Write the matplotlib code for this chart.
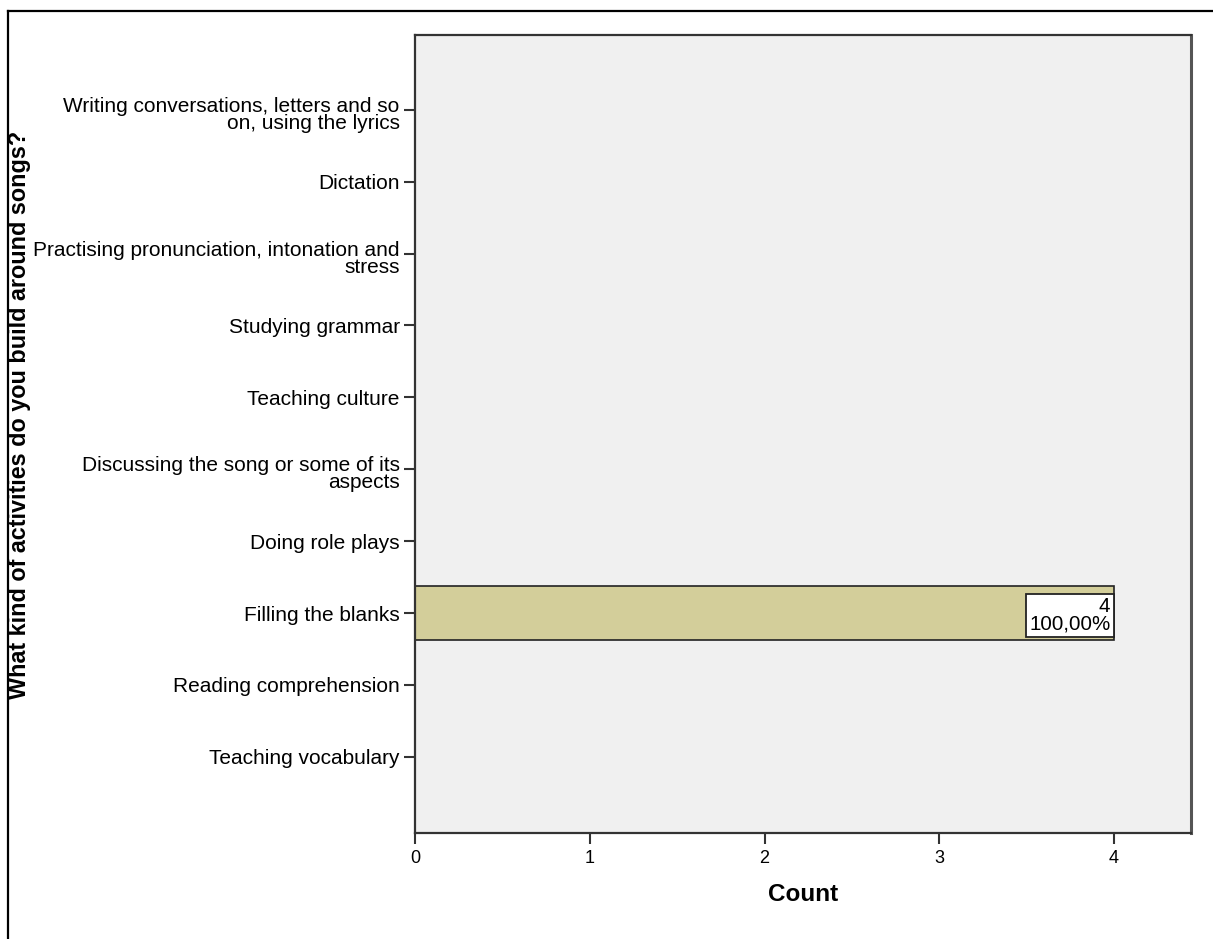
import matplotlib
matplotlib.use("Agg")
import matplotlib.pyplot as plt
from matplotlib.lines import Line2D
from matplotlib.transforms import ScaledTranslation

categories = [
    "Teaching vocabulary",
    "Reading comprehension",
    "Filling the blanks",
    "Doing role plays",
    "Discussing the song or some of its\naspects",
    "Teaching culture",
    "Studying grammar",
    "Practising pronunciation, intonation and\nstress",
    "Dictation",
    "Writing conversations, letters and so\non, using the lyrics",
]
counts = [0, 0, 4, 0, 0, 0, 0, 0, 0, 0]
percent_labels = ["", "", "100,00%", "", "", "", "", "", "", ""]
x_ticks = [0, 1, 2, 3, 4]

plt.rcParams['font.family'] = ['Liberation Sans', 'DejaVu Sans']

fig = plt.figure(figsize=(12.13, 9.39), dpi=100)
ax = fig.add_axes([415/1213, 1 - 833/939, (1191 - 415)/1213, (833 - 35)/939])
ax.set_facecolor('#f0f0f0')

ypos = list(range(len(categories)))
ax.barh(ypos, counts, height=0.75, color='#d3ce9a', edgecolor='#222222', linewidth=1.2, zorder=2)

for y, c, p in zip(ypos, counts, percent_labels):
    if c > 0:
        ax.annotate(f"{c}\n{p}", xy=(c, y), xytext=(-2.6, -1.8), textcoords='offset points',
                    ha='right', va='center', fontsize=14.8, multialignment='right',
                    linespacing=0.92, color='black', zorder=3,
                    bbox=dict(boxstyle='square,pad=0.16', fc='white', ec='#222222', lw=1.3))

ax.set_xlim(0, 4.44)
ax.set_ylim(-1.06, 10.04)
ax.set_xticks(x_ticks)
ax.set_xticklabels([str(t) for t in x_ticks], fontsize=13)
ax.set_yticks(ypos)
ax.set_yticklabels(categories, fontsize=15, linespacing=0.88)
ax.tick_params(axis='both', length=8, width=1.5, color='#333333', direction='out', pad=3)
ax.tick_params(axis='x', pad=4)

for lab in ax.get_yticklabels():
    if "\n" in lab.get_text():
        lab.set_transform(lab.get_transform() + ScaledTranslation(0, -4/100, fig.dpi_scale_trans))

for s in ax.spines.values():
    s.set_color('#333333')
    s.set_linewidth(1.6)
ax.spines['right'].set_color('#555555')
ax.spines['right'].set_linewidth(2.2)

ax.set_xlabel("Count", fontsize=17.5, fontweight='bold', labelpad=12)
fig.text(20/1213, 1 - 415/939, "What kind of activities do you build around songs?",
         rotation=90, ha='center', va='center', fontsize=16.8, fontweight='bold')

# outer frame (top and left edges visible)
fig.add_artist(Line2D([8/1213, 1.0], [1 - 11/939, 1 - 11/939], transform=fig.transFigure, color='black', lw=1.6))
fig.add_artist(Line2D([8/1213, 8/1213], [0.0, 1 - 11/939], transform=fig.transFigure, color='black', lw=1.6))

fig.savefig("out.png", dpi=100)
